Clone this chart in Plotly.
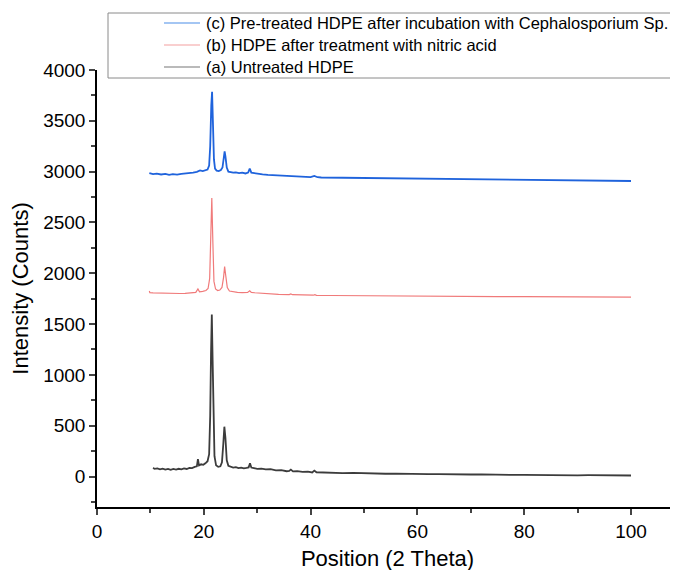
import plotly.graph_objects as go

# (a) Untreated HDPE
x_a = [10.5, 10.8, 11.3, 11.8, 12.3, 12.8, 13.3, 13.8, 14.3, 14.8, 15.3, 15.8, 16.3, 16.8, 17.3, 17.8,
       18.3, 18.7, 18.9, 19.1, 19.5, 19.9, 20.3, 20.7, 21.0, 21.2, 21.35, 21.5, 21.65, 21.8, 22.0, 22.3,
       22.7, 23.1, 23.4, 23.65, 23.85, 24.05, 24.3, 24.6, 25.0, 25.5, 26.0, 26.5, 27.0, 27.5, 28.0, 28.4,
       28.65, 28.9, 29.4, 30.0, 30.8, 31.6, 32.5, 33.5, 34.5, 35.5, 36.0, 36.3, 36.7, 37.5, 38.5, 39.5,
       40.3, 40.7, 41.1, 42, 43, 44, 45, 46, 48, 50, 52, 54, 56, 58, 60, 62, 64, 66, 68, 70, 72, 74, 76,
       78, 80, 82, 84, 86, 88, 90, 92, 94, 96, 98, 100]
y_a = [85, 75, 80, 70, 78, 68, 75, 65, 74, 68, 76, 70, 80, 74, 85, 82,
       95, 100, 170, 110, 120, 115, 130, 150, 220, 600, 1200, 1595, 1150, 550, 200, 110,
       95, 100, 140, 320, 490, 380, 160, 105, 95, 88, 92, 82, 88, 80, 85, 90,
       130, 88, 82, 75, 78, 70, 72, 60, 62, 52, 55, 68, 50, 52, 45, 48,
       40, 58, 42, 40, 42, 36, 38, 34, 35, 30, 31, 27, 28, 25, 26, 23, 24, 21, 22, 20, 21, 18, 19,
       16, 17, 15, 16, 14, 15, 12, 13, 11, 12, 10, 10]

# (b) HDPE after treatment with nitric acid
x_b = [9.8, 9.9, 10.5, 11.5, 12.5, 13.5, 14.5, 15.5, 16.5, 17.5, 18.5, 18.9, 19.2, 19.8, 20.4, 20.8,
       21.1, 21.3, 21.5, 21.7, 21.9, 22.2, 22.6, 23.0, 23.4, 23.7, 23.9, 24.1, 24.4, 24.8, 25.5, 26.3,
       27.2, 28.2, 28.6, 28.9, 29.5, 30.5, 32, 34, 36, 36.3, 36.6, 38, 40.5, 40.8, 41.1, 44, 48, 52, 56,
       60, 65, 70, 75, 80, 85, 90, 95, 100]
y_b = [1825, 1808, 1806, 1804, 1802, 1800, 1800, 1801, 1803, 1806, 1812, 1845, 1818, 1822, 1830, 1850,
       1950, 2350, 2740, 2300, 1920, 1845, 1830, 1835, 1860, 1960, 2065, 1980, 1860, 1825, 1818, 1812,
       1810, 1812, 1828, 1812, 1808, 1804, 1798, 1793, 1790, 1796, 1789, 1786, 1784, 1790, 1783, 1781,
       1779, 1778, 1776, 1775, 1773, 1772, 1771, 1770, 1769, 1768, 1767, 1766]

# (c) Pre-treated HDPE after incubation with Cephalosporium Sp.
x_c = [9.8, 10.5, 11.2, 12.0, 12.8, 13.5, 14.2, 15.0, 15.8, 16.5, 17.2, 18.0, 18.7, 19.3, 19.8, 20.3,
       20.7, 21.0, 21.2, 21.4, 21.55, 21.7, 21.9, 22.1, 22.4, 22.8, 23.2, 23.5, 23.75, 23.9, 24.05, 24.3,
       24.6, 25.0, 25.5, 26.0, 26.6, 27.2, 27.8, 28.3, 28.6, 28.9, 29.4, 30, 31, 32, 33, 34, 35, 36, 37,
       38, 39, 40, 40.7, 41.3, 42, 44, 46, 48, 50, 52, 54, 56, 58, 60, 62, 64, 66, 68, 70, 72, 74, 76,
       78, 80, 82, 84, 86, 88, 90, 92, 94, 96, 98, 100]
y_c = [2985, 2975, 2980, 2972, 2978, 2968, 2975, 2970, 2978, 2980, 2986, 2990, 2998, 3012, 3005, 3015,
       3020, 3060, 3250, 3650, 3785, 3500, 3120, 3030, 3010, 3005, 3015, 3040, 3140, 3200, 3150, 3040,
       3000, 2995, 2990, 2992, 2985, 2990, 2982, 2990, 3030, 2990, 2985, 2978, 2972, 2968, 2965, 2961,
       2958, 2956, 2952, 2951, 2948, 2946, 2958, 2945, 2942, 2941, 2938, 2938, 2935, 2934, 2932, 2931,
       2929, 2928, 2926, 2926, 2924, 2923, 2922, 2921, 2920, 2919, 2918, 2917, 2916, 2915, 2914, 2913,
       2912, 2912, 2911, 2910, 2910, 2908]

names = ["(a) Untreated HDPE",
         "(b) HDPE after treatment with nitric acid",
         "(c) Pre-treated HDPE after incubation with Cephalosporium Sp."]
colors = ["#3c3c3c", "#f07a7a", "#1f63dc"]
legend_colors = ["#777777", "#f4a0a0", "#4a8ee8"]
widths = [1.8, 1.2, 1.8]

x_ticks = [0, 20, 40, 60, 80, 100]
y_ticks = [0, 500, 1000, 1500, 2000, 2500, 3000, 3500, 4000]

W, H = 678, 570
ML, MR, MT, MB = 89, 8, 62, 71
PW, PH = W - ML - MR, H - MT - MB


def px(xp):
    return (xp - ML) / PW


def py(yp):
    return (H - MB - yp) / PH


fig = go.Figure()
for xs, ys, n, c, w in zip([x_a, x_b, x_c], [y_a, y_b, y_c], names, colors, widths):
    fig.add_trace(go.Scatter(x=xs, y=ys, mode="lines", name=n, showlegend=False,
                             line=dict(color=c, width=w)))

font = "Liberation Sans, Arial, sans-serif"

# Legend box (drawn like the original Origin-style legend)
shapes = [dict(type="rect", xref="paper", yref="paper",
               x0=px(100), x1=px(664), y0=py(70), y1=py(5),
               line=dict(color="#8a8a8a", width=1), fillcolor="rgba(0,0,0,0)")]
annotations = []
rows_y = [15, 37, 59]
for i, idx in enumerate([2, 1, 0]):
    yy = py(rows_y[i])
    shapes.append(dict(type="line", xref="paper", yref="paper",
                       x0=px(156), x1=px(192), y0=yy, y1=yy,
                       line=dict(color=legend_colors[idx], width=1.2)))
    annotations.append(dict(text=names[idx], xref="paper", yref="paper",
                            x=px(196), y=yy, xanchor="left", yanchor="middle",
                            showarrow=False, font=dict(size=16.5, color="black")))

fig.update_layout(
    width=W, height=H,
    margin=dict(l=ML, r=MR, t=MT, b=MB, autoexpand=False),
    paper_bgcolor="white", plot_bgcolor="white",
    font=dict(family=font, size=19, color="black"),
    showlegend=False,
    shapes=shapes, annotations=annotations,
    xaxis=dict(range=[0, 108.8], tickvals=x_ticks, showline=True, linecolor="black",
               linewidth=1.5, ticks="outside", ticklen=6, tickwidth=1.5, showgrid=False,
               zeroline=False, automargin=False,
               minor=dict(dtick=10, ticks="outside", ticklen=4, tickwidth=1.5),
               title=dict(text="Position (2 Theta)", font=dict(size=22), standoff=10),
               tickfont=dict(size=19)),
    yaxis=dict(range=[-300, 4000], tickvals=y_ticks, showline=True, linecolor="black",
               linewidth=1.5, ticks="outside", ticklen=6, tickwidth=1.5, showgrid=False,
               zeroline=False, automargin=False,
               minor=dict(dtick=250, ticks="outside", ticklen=4, tickwidth=1.5),
               title=dict(text="Intensity (Counts)", font=dict(size=22), standoff=12),
               tickfont=dict(size=19)),
)

fig.write_html("out.html")
